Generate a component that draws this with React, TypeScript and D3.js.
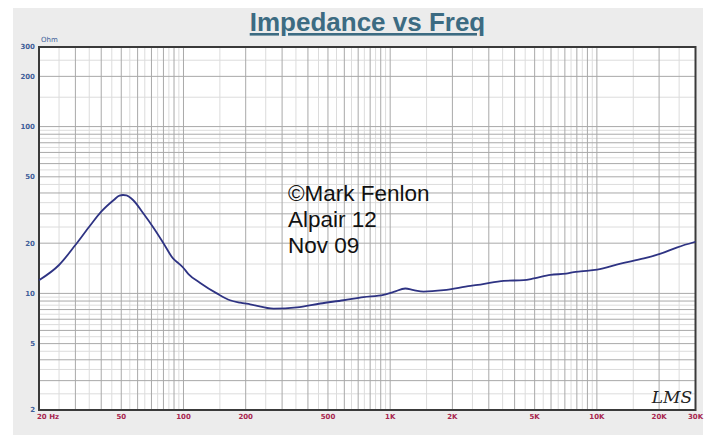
import * as d3 from "d3";

const freqs = [
  20, 25, 30, 35, 40, 46, 49, 51, 53, 57, 64, 72, 80, 89, 95, 100, 106, 120,
  145, 168, 188, 210, 273, 354, 459, 595, 743, 929, 1040, 1184, 1300, 1452,
  1815, 2445, 2733, 3545, 4430, 4955, 5965, 7100, 7740, 8340, 10030, 13020,
  16880, 20340, 24500, 30000,
];
const ohms = [
  12.0, 14.8, 19.5, 25.1, 30.9, 36.3, 38.6, 38.9, 38.7, 36.3, 30.1, 24.5,
  20.0, 16.2, 15.1, 14.2, 13.0, 11.6, 10.0, 9.1, 8.8, 8.6, 8.1, 8.25, 8.7,
  9.1, 9.5, 9.8, 10.2, 10.7, 10.45, 10.25, 10.45, 11.1, 11.3, 11.9, 12.0,
  12.3, 12.9, 13.15, 13.4, 13.55, 13.9, 15.1, 16.2, 17.3, 18.9, 20.4,
];

const xTicks = [20, 50, 100, 200, 500, 1000, 2000, 5000, 10000, 20000, 30000];
const xTickLabels = ["20 Hz", "50", "100", "200", "500", "1K", "2K", "5K", "10K", "20K", "30K"];
const yTicks = [2, 5, 10, 20, 50, 100, 200, 300];
const yTickLabels = ["2", "5", "10", "20", "50", "100", "200", "300"];

const noteLines = ["©Mark Fenlon", "Alpair 12", "Nov 09"];

const W = 717;
const H = 439;
const plot = { left: 39, right: 695.5, top: 47, bottom: 410 };

// LMS style grid: dark at 1..9 x decade, light at the half steps
function gridValues(lo: number, hi: number) {
  const dark: number[] = [];
  const light: number[] = [];
  for (let dec = 1; dec <= 100000; dec *= 10) {
    for (let m = 1; m < 10; m++) {
      const v = m * dec;
      const h = (m + 0.5) * dec;
      if (v > lo && v < hi) dark.push(v);
      if (h > lo && h < hi) light.push(h);
    }
  }
  return { dark, light };
}

export default function App() {
  const x = d3.scaleLog().domain([20, 30000]).range([plot.left, plot.right]);
  const y = d3.scaleLog().domain([2, 300]).range([plot.bottom, plot.top]);

  const xg = gridValues(20, 30000);
  const yg = gridValues(2, 300);

  const line = d3
    .line<number>()
    .x((_, i) => x(freqs[i]))
    .y((d) => y(d))
    .curve(d3.curveMonotoneX);

  return (
    <div style={{ position: "fixed", left: 0, top: 0 }}>
      <svg width={W} height={H} style={{ display: "block" }}>
        <rect x={0} y={0} width={W} height={H} fill="#ffffff" />
        <rect x={13} y={8} width={690} height={427} fill="#ececec" />
        <rect
          x={plot.left}
          y={plot.top}
          width={plot.right - plot.left}
          height={plot.bottom - plot.top}
          fill="#ffffff"
        />

        {/* light grid */}
        {xg.light.map((v) => (
          <line key={"xl" + v} x1={x(v)} x2={x(v)} y1={plot.top} y2={plot.bottom} stroke="#dcdcdc" strokeWidth={1} />
        ))}
        {yg.light.map((v) => (
          <line key={"yl" + v} x1={plot.left} x2={plot.right} y1={y(v)} y2={y(v)} stroke="#dcdcdc" strokeWidth={1} />
        ))}
        {/* dark grid */}
        {xg.dark.map((v) => (
          <line key={"xd" + v} x1={x(v)} x2={x(v)} y1={plot.top} y2={plot.bottom} stroke="#a9a9a9" strokeWidth={1} />
        ))}
        {yg.dark.map((v) => (
          <line key={"yd" + v} x1={plot.left} x2={plot.right} y1={y(v)} y2={y(v)} stroke="#a9a9a9" strokeWidth={1} />
        ))}

        <rect
          x={plot.left}
          y={plot.top}
          width={plot.right - plot.left}
          height={plot.bottom - plot.top}
          fill="none"
          stroke="#3a3a3a"
          strokeWidth={2}
        />

        <path d={line(ohms) ?? ""} fill="none" stroke="#2e3383" strokeWidth={1.8} />

        {/* title */}
        <text
          x={367.5}
          y={31}
          textAnchor="middle"
          fontFamily="'Liberation Sans', Arial, sans-serif"
          fontWeight="bold"
          fontSize={26}
          fill="#3c6b82"
          textDecoration="underline"
        >
          Impedance vs Freq
        </text>

        {/* y axis labels */}
        <text x={41} y={42} fontFamily="'DejaVu Sans', sans-serif" fontSize={7} fill="#3f5f9a">
          Ohm
        </text>
        {yTicks.map((v, i) => (
          <text
            key={"yt" + v}
            x={35}
            y={y(v)}
            dy="0.35em"
            textAnchor="end"
            fontFamily="'DejaVu Sans', sans-serif"
            fontWeight="bold"
            fontSize={7}
            fill="#3f5f9a"
          >
            {yTickLabels[i]}
          </text>
        ))}

        {/* x axis labels */}
        {xTicks.map((v, i) => (
          <text
            key={"xt" + v}
            x={i === 0 ? x(v) - 2 : x(v)}
            y={419}
            textAnchor={i === 0 ? "start" : "middle"}
            fontFamily="'DejaVu Sans', sans-serif"
            fontWeight="bold"
            fontSize={7}
            fill="#a8264f"
          >
            {xTickLabels[i]}
          </text>
        ))}

        {/* annotation */}
        {noteLines.map((t, i) => (
          <text
            key={t}
            x={288}
            y={201 + i * 26}
            fontFamily="'Liberation Sans', Arial, sans-serif"
            fontSize={22.5}
            fill="#111111"
          >
            {t}
          </text>
        ))}

        <text
          x={672}
          y={403}
          textAnchor="middle"
          fontFamily="'DejaVu Serif', serif"
          fontStyle="italic"
          fontSize={17}
          fill="#222222"
        >
          LMS
        </text>
      </svg>
    </div>
  );
}
